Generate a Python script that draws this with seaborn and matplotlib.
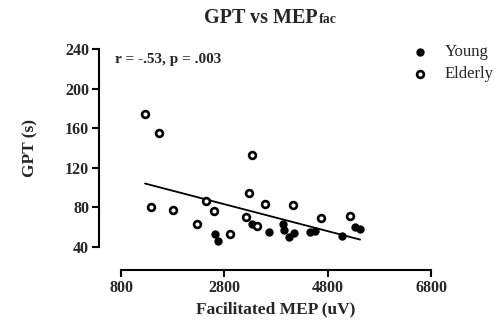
import numpy as np
import pandas as pd
import seaborn as sns
import matplotlib.pyplot as plt

# data
young_mep = [2614, 2672, 3330, 3665, 3930, 3956, 4058, 4149, 4459, 4550, 5073, 5330, 5427]
young_gpt = [53, 46, 63, 55, 63, 57, 50, 54, 55, 56, 51, 60, 58]
elderly_mep = [1265, 1536, 1387, 1801, 2265, 2452, 2594, 2904, 3220, 3272,
               3342, 3439, 3594, 4136, 4672, 5233]
elderly_gpt = [174, 155, 80, 77, 63, 86, 76, 53, 70, 94, 133, 61, 83, 82, 69, 71]
x_ticks = [800, 2800, 4800, 6800]
y_ticks = [40, 80, 120, 160, 200, 240]

young = pd.DataFrame({'MEP': young_mep, 'GPT': young_gpt})
elderly = pd.DataFrame({'MEP': elderly_mep, 'GPT': elderly_gpt})
both = pd.concat([young, elderly], ignore_index=True)

sns.set_style('ticks')
plt.rcParams['font.family'] = ['Liberation Serif', 'DejaVu Serif']

fig = plt.figure(figsize=(5.04, 3.28), dpi=100)
ax = fig.add_axes([121 / 504, 81.3 / 328, 310 / 504, 197.4 / 328])

# regression line over all subjects
sns.regplot(data=both, x='MEP', y='GPT', scatter=False, ci=None, ax=ax,
            line_kws={'color': 'black', 'linewidth': 1.3})

sns.scatterplot(data=young, x='MEP', y='GPT', ax=ax, marker='o', s=36,
                color='black', edgecolor='black', linewidth=0, label='Young',
                clip_on=False, zorder=3)
sns.scatterplot(data=elderly, x='MEP', y='GPT', ax=ax, marker='o', s=24,
                facecolor='white', edgecolor='black', linewidth=1.9,
                label='Elderly', clip_on=False, zorder=3)

# offset spines first (moving a spine resets the ticks)
sns.despine(ax=ax)
ax.spines['left'].set_position(('outward', 16))
ax.spines['bottom'].set_position(('outward', 17))
for s in ['left', 'bottom']:
    ax.spines[s].set_linewidth(1.5)
    ax.spines[s].set_color('black')

ax.set_xlim(800, 6800)
ax.set_ylim(40, 240)
ax.set_xticks(x_ticks)
ax.set_yticks(y_ticks)
ax.set_xticklabels([str(t) for t in x_ticks], fontsize=11.5, fontweight='bold')
ax.set_yticklabels([str(t) for t in y_ticks], fontsize=11.5, fontweight='bold')
ax.tick_params(width=1.5, length=5, pad=2, color='black')

ax.set_xlabel('Facilitated MEP (uV)', fontsize=12.5, fontweight='bold', labelpad=4)
ax.set_ylabel('GPT (s)', fontsize=12.5, fontweight='bold', labelpad=19)

fig.text(318 / 504, 0.945, 'GPT vs MEP', fontsize=14.5, fontweight='bold',
         ha='right', va='center')
fig.text(319 / 504, 0.941, 'fac', fontsize=10, fontweight='bold',
         ha='left', va='center')

ax.text(-0.02, 0.95, 'r = -.53, p = .003', transform=ax.transAxes,
        fontsize=11, fontweight='bold', ha='left', va='center')

ax.legend(loc='upper left', bbox_to_anchor=(395 / 504, 292 / 328),
          bbox_transform=fig.transFigure, frameon=False, fontsize=12,
          handletextpad=0.5, labelspacing=0.35, borderpad=0)

fig.savefig('out.png', dpi=100)
